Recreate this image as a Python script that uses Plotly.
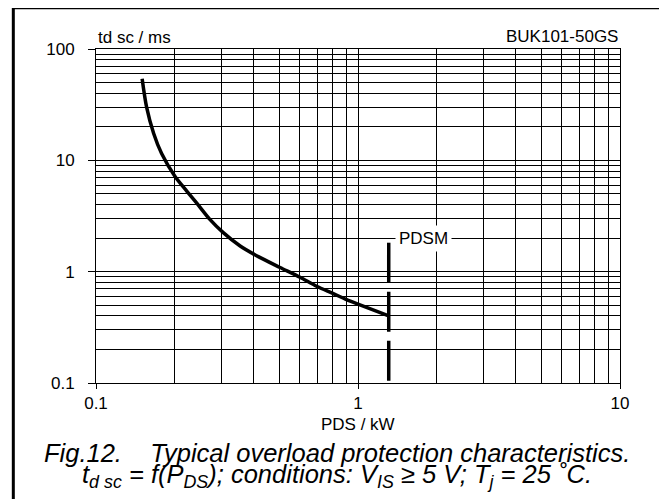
import numpy as np
import plotly.graph_objects as go

# Curve: t_d sc (ms) versus P_DS (kW)
pds_kw = [0.15, 0.156, 0.166, 0.178, 0.2, 0.222, 0.242, 0.272, 0.306, 0.355, 0.42, 0.504, 0.601, 0.695, 0.805, 0.905, 1.0, 1.31]
tdsc_ms = [54, 30, 17.4, 11.5, 7.2, 5.3, 4.15, 2.95, 2.24, 1.70, 1.35, 1.09, 0.89, 0.74, 0.635, 0.56, 0.51, 0.40]

# PDSM limit line
pdsm_x = [1.31, 1.31]
pdsm_y = [1.82, 0.1]
pdsm_label = "PDSM"

x_major = [0.1, 1, 10]
x_major_text = ["0.1", "1", "10"]
y_major = [0.1, 1, 10, 100]
y_major_text = ["0.1", "1", "10", "100"]
mult = [2, 3, 4, 5, 6, 7, 8, 9]
x_minor = [m * d for d in [0.1, 1] for m in mult]
y_minor = [m * d for d in [0.1, 1, 10] for m in mult]

y_title = "td sc / ms"
x_title = "PDS / kW"
device = "BUK101-50GS"
caption1 = "<i>Fig.12.&nbsp;&nbsp;&nbsp;&nbsp;Typical overload protection characteristics.</i>"
caption2 = ("<i>t<sub>d sc</sub> = f(P<sub>DS</sub>); conditions: V<sub>IS</sub> \u2265 5 V; "
            "T<sub>j</sub> = 25 \u02daC.</i>")

FONT = "Liberation Sans, Arial, Helvetica, sans-serif"

fig = go.Figure()
fig.add_trace(go.Scatter(x=pds_kw, y=tdsc_ms, mode="lines",
                         line=dict(color="black", width=3.5, shape="spline", smoothing=0.8),
                         hoverinfo="skip", showlegend=False))
fig.add_trace(go.Scatter(x=pdsm_x, y=pdsm_y, mode="lines",
                         line=dict(color="black", width=3.5, dash="40px,9px"),
                         hoverinfo="skip", showlegend=False))

axis_common = dict(
    type="log", showgrid=True, gridcolor="black", gridwidth=1,
    showline=True, linecolor="black", linewidth=1, mirror=True,
    ticks="outside", tickcolor="black", tickwidth=1,
    tickfont=dict(family=FONT, size=17, color="black"),
    zeroline=False, tickmode="array",
)

fig.update_xaxes(**axis_common, range=[np.log10(0.1), np.log10(10)],
                 tickvals=x_major, ticktext=x_major_text, ticklen=5,
                 minor=dict(tickmode="array", tickvals=x_minor, showgrid=True,
                            gridcolor="black", gridwidth=1, ticks=""))
fig.update_yaxes(**axis_common, range=[np.log10(0.1), np.log10(100)],
                 tickvals=y_major, ticktext=y_major_text, ticklen=7,
                 ticklabelstandoff=10,
                 minor=dict(tickmode="array", tickvals=y_minor, showgrid=True,
                            gridcolor="black", gridwidth=1, ticks=""))

annotations = [
    dict(text=pdsm_label, x=np.log10(1.786), y=np.log10(pdsm_y[0] * 1.1), xref="x", yref="y",
         showarrow=False, bgcolor="white", borderpad=3,
         font=dict(family=FONT, size=17, color="black")),
    dict(text=y_title, x=0, y=1.035, xref="paper", yref="paper", xanchor="left", yanchor="middle",
         showarrow=False, font=dict(family=FONT, size=17, color="black")),
    dict(text=device, x=1, y=1.038, xref="paper", yref="paper", xanchor="right", yanchor="middle",
         showarrow=False, font=dict(family=FONT, size=17, color="black")),
    dict(text=x_title, x=0.5, y=-0.124, xref="paper", yref="paper", xanchor="center", yanchor="middle",
         showarrow=False, font=dict(family=FONT, size=17, color="black")),
    dict(text=caption1, x=0.46, y=-0.2105, xref="paper", yref="paper", xanchor="center", yanchor="middle",
         showarrow=False, font=dict(family=FONT, size=25.5, color="black")),
    dict(text=caption2, x=0.46, y=-0.279, xref="paper", yref="paper", xanchor="center", yanchor="middle",
         showarrow=False, font=dict(family=FONT, size=25.5, color="black")),
]

fig.update_layout(
    width=667, height=499,
    margin=dict(l=88, r=55, t=41, b=124),
    paper_bgcolor="white", plot_bgcolor="white",
    annotations=annotations,
    shapes=[dict(type="path", xref="paper", yref="paper",
                 path="M -0.1578,-0.6 L -0.1578,1.1234 L 1.0792,1.1234 L 1.0792,-0.6",
                 line=dict(color="black", width=3))],
    showlegend=False,
)

fig.write_html("out.html")
